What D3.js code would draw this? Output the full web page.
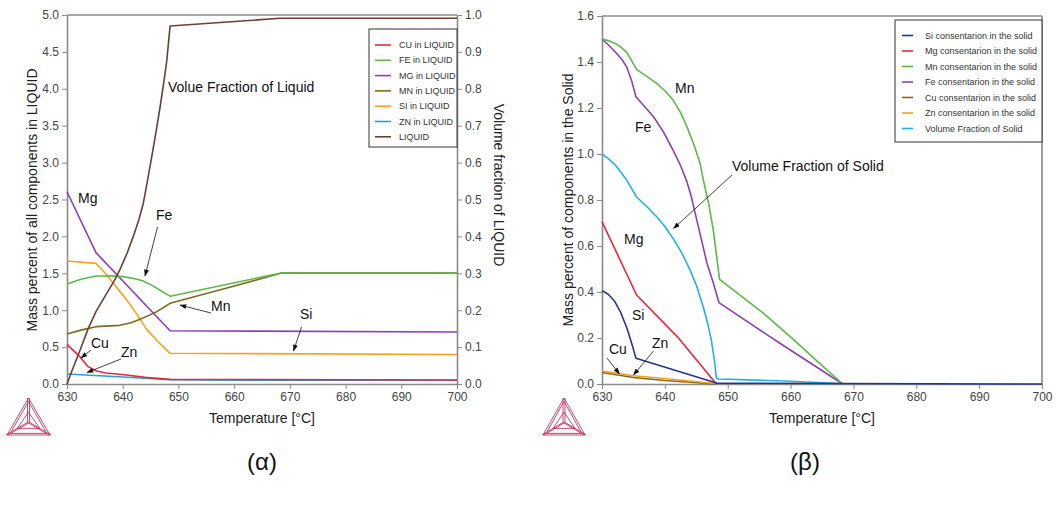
<!DOCTYPE html>
<html><head><meta charset="utf-8">
<script src="https://cdn.jsdelivr.net/npm/d3@7"></script>
<style>
body{margin:0;background:#fff}
text{font-family:"Liberation Sans",Arial,Helvetica,sans-serif}
</style>
</head><body>
<svg id="c" width="1059" height="505"></svg>
<script>
// ---------- tick labels ----------
const xTicks = [630, 640, 650, 660, 670, 680, 690, 700];
const yTicksA = [0, 0.5, 1, 1.5, 2, 2.5, 3, 3.5, 4, 4.5, 5];
const yTicksA2 = [0, 0.1, 0.2, 0.3, 0.4, 0.5, 0.6, 0.7, 0.8, 0.9, 1];
const yTicksB = [0, 0.2, 0.4, 0.6, 0.8, 1.0, 1.2, 1.4, 1.6];

// ---------- chart (a): mass percent in LIQUID [T, %] ----------
const cuLiq = [[630,0.537],[632.3,0.37],[633.8,0.235],[635.3,0.176],[637,0.15],[640.7,0.122],[644,0.09],[648.5,0.063],[700,0.055]];
const znLiq = [[630,0.135],[640,0.095],[648.5,0.058],[663,0.05],[700,0.05]];
const mgLiq = [[630,2.605],[635.2,1.78],[648.5,0.722],[700,0.705]];
const siLiq = [[630,1.667],[635.2,1.635],[637,1.49],[639,1.3],[640.7,1.14],[642.5,0.95],[644.3,0.74],[646.5,0.56],[648.5,0.416],[700,0.40]];
const feLiq = [[630,1.355],[632.5,1.42],[635.3,1.463],[638,1.465],[640,1.455],[642,1.43],[643.6,1.40],[645.2,1.34],[646.7,1.27],[648.5,1.19],[668.5,1.505],[700,1.505]];
const mnLiq = [[630,0.678],[632.5,0.73],[635.2,0.777],[639.5,0.795],[641.5,0.83],[643.1,0.876],[644.7,0.93],[646.1,0.98],[647.4,1.04],[648.5,1.093],[658.7,1.30],[664,1.41],[668.5,1.505],[700,1.505]];
// volume fraction of liquid [T, fraction]
const liquidFrac = [[630,0],[631,0.04],[632.3,0.09],[633.8,0.15],[635.2,0.196],[637.1,0.245],[638.5,0.28],[639.5,0.31],[640.8,0.355],[641.9,0.40],[642.9,0.445],[643.7,0.49],[644.5,0.555],[645.2,0.615],[646,0.685],[646.7,0.75],[647.3,0.81],[647.9,0.875],[648.5,0.97],[668.2,0.991],[700,0.991]];

// ---------- chart (b): mass percent in the solid [T, %] ----------
const siSol = [[630,0.406],[631,0.39],[632,0.36],[633,0.31],[634,0.24],[634.8,0.17],[635.4,0.112],[648.2,0.004],[700,0]];
const mgSol = [[630,0.706],[635.5,0.387],[642,0.205],[648.2,0]];
const mnSol = [[630,1.5],[631,1.493],[632,1.482],[633,1.465],[634,1.44],[635.5,1.368],[637,1.34],[638.7,1.307],[640,1.275],[641.3,1.235],[642.5,1.18],[643.5,1.119],[644.5,1.05],[645.6,0.96],[646.1,0.89],[647,0.78],[647.7,0.67],[648.7,0.455],[652,0.385],[655.7,0.307],[660.4,0.195],[664,0.105],[668.3,0]];
const feSol = [[630,1.5],[631,1.475],[632.3,1.438],[633.2,1.41],[633.9,1.38],[634.7,1.32],[635.4,1.249],[636.8,1.205],[638.2,1.162],[639.8,1.095],[641.3,1.017],[642.5,0.95],[643.5,0.88],[644.2,0.815],[644.8,0.745],[645.8,0.63],[646.7,0.525],[647.7,0.44],[648.6,0.354],[658.3,0.177],[668.3,0]];
const cuSol = [[630,0.05],[635,0.028],[640,0.015],[648,0]];
const znSol = [[630,0.056],[635,0.036],[640,0.024],[648,0.002]];
const volSolid = [[630,1.0],[631,0.98],[632,0.955],[633,0.922],[634,0.883],[635.5,0.813],[637,0.775],[638.7,0.727],[640,0.685],[641.3,0.633],[642.7,0.57],[644,0.496],[645,0.43],[646.1,0.336],[646.8,0.265],[647.4,0.19],[647.9,0.1],[648.2,0.025],[648.6,0.022],[660,0.012],[668,0.002]];

// ---------- legends ----------
const legendA = ["CU in LIQUID","FE in LIQUID","MG in LIQUID","MN in LIQUID","SI in LIQUID","ZN in LIQUID","LIQUID"];
const legendB = ["Si consentarion in the solid","Mg consentarion in the solid","Mn consentarion in the solid","Fe consentarion in the solid","Cu consentarion in the solid","Zn consentarion in the solid","Volume Fraction of Solid"];

const C = {cu:"#e8283c", fe:"#5cb946", mg:"#8e3fb5", mn:"#7d6b1f", si:"#f7a21b", zn:"#1ca3e3", liq:"#6b4030", siB:"#24358f", vol:"#23b0ea"};

const svg = d3.select("#c");
svg.append("rect").attr("width",1059).attr("height",505).attr("fill","#fff");

const defs = svg.append("defs");
defs.append("marker").attr("id","arr").attr("viewBox","0 0 8 6").attr("refX",7.5).attr("refY",3)
  .attr("markerWidth",7).attr("markerHeight",5).attr("markerUnits","userSpaceOnUse").attr("orient","auto")
  .append("path").attr("d","M0,0 L8,3 L0,6 Z").attr("fill","#111");

const AX = "#8a8a8a";
function styleAxis(g){
  g.select(".domain").attr("stroke",AX).attr("stroke-width",1.6);
  g.selectAll(".tick line").attr("stroke",AX).attr("stroke-width",1);
  g.selectAll(".tick text").attr("fill","#444").attr("font-size","12px")
   .attr("font-family",'"Liberation Sans",Arial,sans-serif');
}

// ================= chart (a) =================
const xA = d3.scaleLinear().domain([630,700]).range([67,457]);
const yA = d3.scaleLinear().domain([0,5]).range([384,15]);
const yA2 = d3.scaleLinear().domain([0,1]).range([384,15]);

const gA = svg.append("g");
gA.append("line").attr("x1",67).attr("x2",457).attr("y1",15).attr("y2",15).attr("stroke",AX).attr("stroke-width",1.6);
gA.append("g").attr("transform","translate(0,384)").call(d3.axisBottom(xA).tickValues(xTicks).tickFormat(d3.format("d")).tickSize(5).tickSizeOuter(0)).call(styleAxis);
gA.append("g").attr("transform","translate(67,0)").call(d3.axisLeft(yA).tickValues(yTicksA).tickFormat(d3.format(".1f")).tickSize(5).tickSizeOuter(0)).call(styleAxis);
gA.append("g").attr("transform","translate(457,0)").call(d3.axisRight(yA2).tickValues(yTicksA2).tickFormat(d3.format(".1f")).tickSize(5).tickSizeOuter(0)).call(styleAxis);

const lineA = d3.line().x(d=>xA(d[0])).y(d=>yA(d[1]));
const lineA2 = d3.line().x(d=>xA(d[0])).y(d=>yA2(d[1]));
const seriesA = [[znLiq,C.zn],[cuLiq,C.cu],[siLiq,C.si],[mgLiq,C.mg],[mnLiq,C.mn],[feLiq,C.fe]];
seriesA.forEach(([d,c])=>gA.append("path").attr("d",lineA(d)).attr("fill","none").attr("stroke",c).attr("stroke-width",1.6).attr("stroke-linejoin","round"));
gA.append("path").attr("d",lineA2(liquidFrac)).attr("fill","none").attr("stroke",C.liq).attr("stroke-width",1.6).attr("stroke-linejoin","round");

// axis titles
svg.append("text").attr("transform","translate(37,200) rotate(-90)").attr("text-anchor","middle").attr("font-size","14px").attr("fill","#222").text("Mass percent of all components in LIQUID");
svg.append("text").attr("transform","translate(494,185) rotate(90)").attr("text-anchor","middle").attr("font-size","14px").attr("fill","#222").text("Volume fraction of LIQUID");
svg.append("text").attr("x",262).attr("y",423).attr("text-anchor","middle").attr("font-size","14px").attr("fill","#222").text("Temperature [°C]");

// legend (a)
const lgA = svg.append("g");
lgA.append("rect").attr("x",369).attr("y",29).attr("width",88).attr("height",118).attr("fill","#fff").attr("stroke","#333").attr("stroke-width",1);
const colsA = [C.cu,C.fe,C.mg,C.mn,C.si,C.zn,C.liq];
legendA.forEach((t,i)=>{
  const y = 45 + i*15.3;
  lgA.append("line").attr("x1",375).attr("x2",391).attr("y1",y).attr("y2",y).attr("stroke",colsA[i]).attr("stroke-width",1.6);
  lgA.append("text").attr("x",399).attr("y",y+3).attr("font-size","9px").attr("fill","#333").text(t);
});

// annotations (a)
function label(x,y,t,fs){ svg.append("text").attr("x",x).attr("y",y).attr("font-size",(fs||14)+"px").attr("fill","#111").text(t); }
function arrow(x1,y1,x2,y2){ svg.append("line").attr("x1",x1).attr("y1",y1).attr("x2",x2).attr("y2",y2).attr("stroke","#111").attr("stroke-width",0.8).attr("marker-end","url(#arr)"); }
label(168,92,"Volue Fraction of Liquid");
label(78,203,"Mg");
label(156,220,"Fe"); arrow(157.5,227,145,276);
label(211,311,"Mn"); arrow(211,313,180,305);
label(300,319,"Si"); arrow(301.5,327,293.5,351);
label(91,348,"Cu"); arrow(91,350,81,358);
label(121,357,"Zn"); arrow(121,359,87,372.5);

// ================= chart (b) =================
const xB = d3.scaleLinear().domain([630,700]).range([602,1042]);
const yB = d3.scaleLinear().domain([0,1.6]).range([384,16]);
const gB = svg.append("g");
gB.append("line").attr("x1",602).attr("x2",1042).attr("y1",16).attr("y2",16).attr("stroke",AX).attr("stroke-width",1.6);
gB.append("line").attr("x1",1042).attr("x2",1042).attr("y1",16).attr("y2",384).attr("stroke",AX).attr("stroke-width",1.6);
gB.append("g").attr("transform","translate(0,384)").call(d3.axisBottom(xB).tickValues(xTicks).tickFormat(d3.format("d")).tickSize(5).tickSizeOuter(0)).call(styleAxis);
gB.append("g").attr("transform","translate(602,0)").call(d3.axisLeft(yB).tickValues(yTicksB).tickFormat(d3.format(".1f")).tickSize(5).tickSizeOuter(0)).call(styleAxis);

const lineB = d3.line().x(d=>xB(d[0])).y(d=>yB(d[1]));
const seriesB = [[volSolid,C.vol],[cuSol,C.mn],[znSol,C.si],[mgSol,C.cu],[feSol,C.mg],[mnSol,C.fe],[siSol,C.siB]];
seriesB.forEach(([d,c])=>gB.append("path").attr("d",lineB(d)).attr("fill","none").attr("stroke",c).attr("stroke-width",1.6).attr("stroke-linejoin","round"));

svg.append("text").attr("transform","translate(573,200) rotate(-90)").attr("text-anchor","middle").attr("font-size","14px").attr("fill","#222").text("Mass percent of components in the Solid");
svg.append("text").attr("x",822).attr("y",423).attr("text-anchor","middle").attr("font-size","14px").attr("fill","#222").text("Temperature [°C]");

// legend (b)
const lgB = svg.append("g");
lgB.append("rect").attr("x",895).attr("y",20).attr("width",147).attr("height",122).attr("fill","#fff").attr("stroke","#333").attr("stroke-width",1);
const colsB = [C.siB,C.cu,C.fe,C.mg,C.mn,C.si,C.vol];
legendB.forEach((t,i)=>{
  const y = 35.5 + i*15.5;
  lgB.append("line").attr("x1",902).attr("x2",913).attr("y1",y).attr("y2",y).attr("stroke",colsB[i]).attr("stroke-width",1.6);
  lgB.append("text").attr("x",925).attr("y",y+3).attr("font-size","9px").attr("fill","#333").text(t);
});

label(675,93,"Mn");
label(635,132,"Fe");
label(732,171,"Volume Fraction of Solid"); arrow(732,175,673.5,228.5);
label(624,244,"Mg");
label(632,320,"Si");
label(609,354,"Cu"); arrow(607,358,619.5,374);
label(652,348,"Zn"); arrow(653.5,351,633.5,375);

// sub-figure captions
svg.append("text").attr("x",262).attr("y",470).attr("text-anchor","middle").attr("font-family",'"Liberation Serif","Times New Roman",serif').attr("font-size","24px").attr("fill","#111").text("(α)");
svg.append("text").attr("x",805).attr("y",470).attr("text-anchor","middle").attr("font-family",'"Liberation Serif","Times New Roman",serif').attr("font-size","24px").attr("fill","#111").text("(β)");

// logos
function logo(cx, top, w, h){
  const g = svg.append("g").attr("fill","none").attr("stroke","#c0365e").attr("stroke-width",0.9);
  const A=[cx,top], B=[cx-w/2,top+h], Cc=[cx+w/2,top+h];
  const ctr=[cx, top+h*0.66];
  const tri=(p,q,r)=>`M${p}L${q}L${r}Z`;
  g.append("path").attr("d",tri(A,B,Cc));
  g.append("path").attr("d",tri([cx,top+3.5],[cx-w/2+3.2,top+h-1.6],[cx+w/2-3.2,top+h-1.6]));
  const inner=[[cx,top+h*0.38],[cx-w*0.26,top+h*0.82],[cx+w*0.26,top+h*0.82]];
  g.append("path").attr("d",tri(inner[0],inner[1],inner[2]));
  [A,B,Cc].forEach(p=>{
    g.append("line").attr("x1",p[0]-1).attr("y1",p[1]).attr("x2",ctr[0]-1).attr("y2",ctr[1]);
    g.append("line").attr("x1",p[0]+1).attr("y1",p[1]).attr("x2",ctr[0]+1).attr("y2",ctr[1]);
  });
}
logo(28.5, 398, 43, 37);
logo(564, 398, 42, 37);
</script>
</body></html>
